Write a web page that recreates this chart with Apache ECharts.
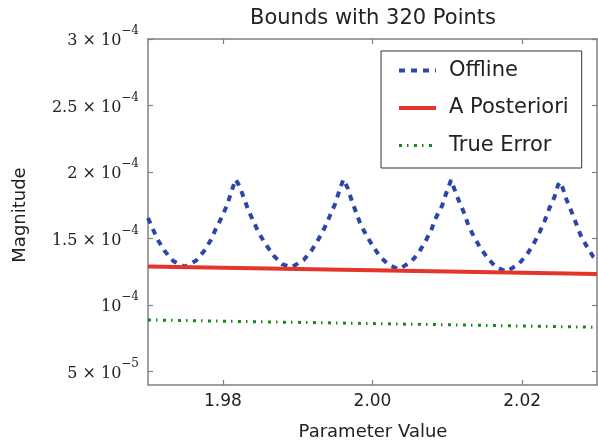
<!DOCTYPE html>
<html>
<head>
<meta charset="utf-8">
<script src="https://cdn.jsdelivr.net/npm/echarts@6/dist/echarts.min.js"></script>
<style>
html,body{margin:0;padding:0;background:#fff;}
#c{width:598px;height:442px;}
</style>
</head>
<body>
<div id="c"></div>
<script>
const titleText = 'Bounds with 320 Points';
const xName = 'Parameter Value';
const yName = 'Magnitude';
const seriesNames = ['Offline', 'A Posteriori', 'True Error'];

const xTickValues = [1.98, 2.00, 2.02];
const yTickValues = [5e-5, 1e-4, 1.5e-4, 2e-4, 2.5e-4, 3e-4];
const yTickMantissas = ['5', '', '1.5', '2', '2.5', '3'];
const yTickExponents = ['\u22125', '\u22124', '\u22124', '\u22124', '\u22124', '\u22124'];

const offlineX = [1.9700, 1.9707, 1.9714, 1.9723, 1.9734, 1.9749, 1.9764, 1.9775, 1.9784, 1.9791, 1.9799, 1.9806, 1.9811, 1.9817, 1.9822, 1.9828, 1.9834, 1.9841, 1.9849, 1.9858, 1.9868, 1.9879, 1.9892, 1.9908, 1.9919, 1.9928, 1.9936, 1.9943, 1.9950, 1.9955, 1.9961, 1.9967, 1.9972, 1.9978, 1.9984, 1.9992, 2.0001, 2.0010, 2.0022, 2.0035, 2.0052, 2.0062, 2.0071, 2.0079, 2.0085, 2.0093, 2.0098, 2.0105, 2.0109, 2.0115, 2.0122, 2.0128, 2.0135, 2.0144, 2.0154, 2.0165, 2.0179, 2.0195, 2.0206, 2.0215, 2.0223, 2.0230, 2.0236, 2.0243, 2.0248, 2.0251, 2.0254, 2.0259, 2.0266, 2.0272, 2.0278, 2.0286, 2.0295, 2.0300];
const offlineY = [1.655e-4, 1.565e-4, 1.482e-4, 1.401e-4, 1.331e-4, 1.289e-4, 1.334e-4, 1.407e-4, 1.490e-4, 1.578e-4, 1.665e-4, 1.758e-4, 1.845e-4, 1.945e-4, 1.898e-4, 1.808e-4, 1.715e-4, 1.627e-4, 1.533e-4, 1.452e-4, 1.372e-4, 1.309e-4, 1.285e-4, 1.339e-4, 1.415e-4, 1.497e-4, 1.582e-4, 1.670e-4, 1.760e-4, 1.848e-4, 1.945e-4, 1.878e-4, 1.790e-4, 1.698e-4, 1.608e-4, 1.522e-4, 1.439e-4, 1.364e-4, 1.302e-4, 1.270e-4, 1.327e-4, 1.397e-4, 1.482e-4, 1.572e-4, 1.660e-4, 1.747e-4, 1.833e-4, 1.940e-4, 1.878e-4, 1.790e-4, 1.698e-4, 1.602e-4, 1.520e-4, 1.432e-4, 1.352e-4, 1.285e-4, 1.252e-4, 1.307e-4, 1.377e-4, 1.457e-4, 1.545e-4, 1.632e-4, 1.723e-4, 1.811e-4, 1.903e-4, 1.925e-4, 1.883e-4, 1.796e-4, 1.702e-4, 1.615e-4, 1.527e-4, 1.445e-4, 1.364e-4, 1.340e-4];

const posterioriX = [1.97, 2.03];
const posterioriY = [1.290e-4, 1.234e-4];

const trueErrorX = [1.97, 2.03];
const trueErrorY = [8.89e-5, 8.34e-5];

function pairs(xs, ys) { return xs.map((x, i) => [x, ys[i]]); }

const spine = '#808080';
const colors = ['#2c46a8', '#e3352a', '#158a15'];
const styles = [
  {color: colors[0], width: 4, type: [6, 6]},
  {color: colors[1], width: 4, type: 'solid'},
  {color: colors[2], width: 3, type: [3, 5, 1.5, 5.5]}
];
const chart = echarts.init(document.getElementById('c'), null, {renderer: 'canvas'});

function yLabel(v) {
  let idx = -1;
  for (let i = 0; i < yTickValues.length; i++) {
    if (Math.abs(v - yTickValues[i]) < 1e-9) { idx = i; break; }
  }
  if (idx < 0) return '';
  const m = yTickMantissas[idx];
  const base = m ? (m + ' \u00d7 10') : '10';
  return '{m|' + base + '}{e|' + yTickExponents[idx] + '}';
}

const axisCommon = {
  axisLine: {show: true, lineStyle: {color: spine, width: 1.5}},
  axisTick: {show: true, inside: true, length: 5, lineStyle: {color: spine, width: 1.2}},
  splitLine: {show: false}
};

const option = {
  animation: false,
  backgroundColor: '#fff',
  grid: {left: 148, right: 1, top: 39, bottom: 57, containLabel: false},
  xAxis: [
    Object.assign({
      type: 'value', min: 1.97, max: 2.03, position: 'bottom',
      axisLabel: {show: true, customValues: xTickValues, margin: 8,
        formatter: v => v.toFixed(2), fontFamily: 'DejaVu Sans', fontSize: 17, color: '#222'}
    }, axisCommon, {axisTick: Object.assign({}, axisCommon.axisTick, {customValues: xTickValues})}),
    Object.assign({
      type: 'value', min: 1.97, max: 2.03, position: 'top',
      axisLabel: {show: false}
    }, axisCommon, {axisTick: Object.assign({}, axisCommon.axisTick, {customValues: xTickValues})})
  ],
  yAxis: [
    Object.assign({
      type: 'value', min: 4e-5, max: 3e-4, position: 'left',
      axisLabel: {show: true, customValues: yTickValues, margin: 9, formatter: yLabel,
        padding: [0, 0, 4, 0],
        rich: {
          m: {fontFamily: 'DejaVu Serif', fontSize: 16, color: '#222', lineHeight: 24, verticalAlign: 'bottom'},
          e: {fontFamily: 'DejaVu Serif', fontSize: 12, color: '#222', lineHeight: 11, verticalAlign: 'top'}
        }}
    }, axisCommon, {axisTick: Object.assign({}, axisCommon.axisTick, {customValues: yTickValues})}),
    Object.assign({
      type: 'value', min: 4e-5, max: 3e-4, position: 'right',
      axisLabel: {show: false}
    }, axisCommon, {axisTick: Object.assign({}, axisCommon.axisTick, {customValues: yTickValues})})
  ],
  legend: {
    orient: 'vertical', left: 381, top: 51,
    backgroundColor: '#fff', borderColor: '#333', borderWidth: 1, borderRadius: 0,
    padding: [9, 13, 12, 16],
    itemWidth: 37, itemHeight: 20, itemGap: 16.5,
    itemStyle: {opacity: 0},
    textStyle: {fontFamily: 'DejaVu Sans', fontSize: 21, color: '#222', lineHeight: 20, padding: [0, 0, 0, 8]},
    data: seriesNames.map((n, i) => ({name: n, lineStyle: styles[i], itemStyle: {opacity: 0}}))
  },
  graphic: [
    {type: 'text', x: 373, y: 19, style: {text: titleText, font: '21px "DejaVu Sans"', fill: '#222', align: 'center', verticalAlign: 'middle'}},
    {type: 'text', x: 373, y: 432, style: {text: xName, font: '18px "DejaVu Sans"', fill: '#222', align: 'center', verticalAlign: 'middle'}},
    {type: 'text', x: 20, y: 215, rotation: Math.PI / 2, style: {text: yName, font: '18px "DejaVu Sans"', fill: '#222', align: 'center', verticalAlign: 'middle'}}
  ],
  series: seriesNames.map((n, i) => ({
    name: n, type: 'line',
    data: [pairs(offlineX, offlineY), pairs(posterioriX, posterioriY), pairs(trueErrorX, trueErrorY)][i],
    showSymbol: false, symbol: 'none', clip: true,
    lineStyle: styles[i], itemStyle: {color: colors[i]}
  }))
};
chart.setOption(option);
</script>
</body>
</html>
